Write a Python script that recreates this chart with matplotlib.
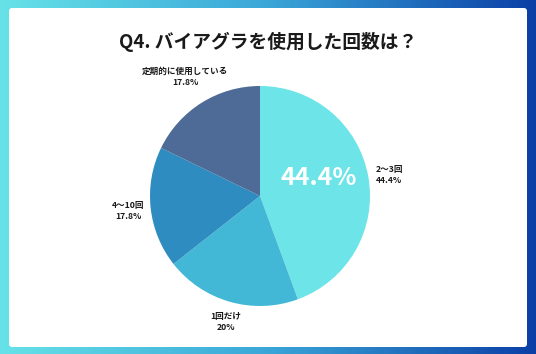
import numpy as np
import matplotlib.pyplot as plt
from matplotlib.colors import LinearSegmentedColormap
from matplotlib.patches import FancyBboxPatch

plt.rcParams['font.family'] = ['Noto Sans CJK JP', 'DejaVu Sans']

# data
title = 'Q4. バイアグラを使用した回数は？'
labels = ['2〜3回', '1回だけ', '4〜10回', '定期的に使用している']
values = [44.4, 20, 17.8, 17.8]
pct_labels = ['44.4%', '20%', '17.8%', '17.8%']
colors = ['#6ce4e8', '#43b8d6', '#2e8cc0', '#4e6a96']

W, H = 536, 354


def fx(x):
    return x / W


def fy(y):
    return 1 - y / H


fig = plt.figure(figsize=(W / 100, H / 100), dpi=100)

# gradient frame
bg = fig.add_axes([0, 0, 1, 1])
bg.set_axis_off()
grad = LinearSegmentedColormap.from_list('frame', ['#66e2e8', '#3aa6d8', '#0b3fa6'])
bg.imshow(np.linspace(0, 1, 256).reshape(1, -1), cmap=grad, aspect='auto',
          extent=[0, W, H, 0])
bg.add_patch(FancyBboxPatch((9, 8), 518, 339, boxstyle='round,pad=0,rounding_size=3',
                            facecolor='white', edgecolor='none'))
bg.set_xlim(0, W)
bg.set_ylim(H, 0)

fig.text(fx(268), fy(42), title, ha='center', va='center',
         fontsize=13.5, fontweight='bold', color='#1a1a1a')

# pie
cx, cy, r = 260, 196, 110
ax = fig.add_axes([fx(cx - r), fy(cy + r), 2 * r / W, 2 * r / H])
ax.pie(values, colors=colors, startangle=90, counterclock=False,
       wedgeprops=dict(linewidth=0))
ax.set_xlim(-1, 1)
ax.set_ylim(-1, 1)
ax.set_aspect('auto')

ax.text(0.53, 0.16, pct_labels[0], ha='center', va='center', color='white',
        fontsize=18, fontweight='bold')

# outside labels
label_pos = [(376, 175, 'left'), (226, 322, 'center'), (128, 211, 'center'), (185, 77, 'center')]
for (x, y, ha), lab, pct in zip(label_pos, labels, pct_labels):
    fig.text(fx(x), fy(y), f'{lab}\n{pct}', ha=ha, va='center', fontsize=6.2,
             fontweight='bold', color='#1a1a1a', linespacing=1.3)

fig.savefig('out.png', dpi=100)
